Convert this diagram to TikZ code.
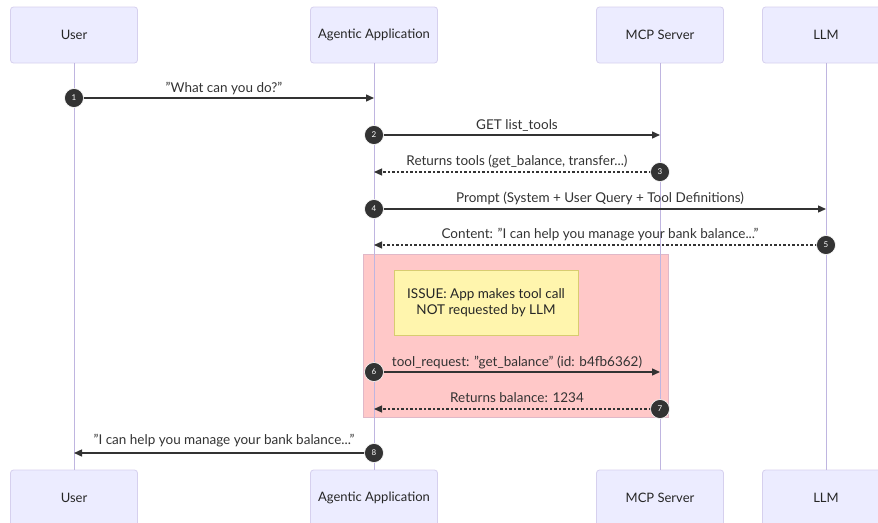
\documentclass[tikz,border=0pt]{standalone}
\usepackage{fontspec}
\setmainfont{Lato}
\usetikzlibrary{arrows.meta}
\definecolor{actorfill}{HTML}{ECECFF}
\definecolor{actorline}{HTML}{D6D0EE}
\definecolor{lifeline}{HTML}{BFB5E0}
\definecolor{msg}{HTML}{333333}
\definecolor{issuebg}{HTML}{FFC8C8}
\definecolor{issueline}{HTML}{E0B8C8}
\definecolor{notefill}{HTML}{FFF5AD}
\definecolor{noteline}{HTML}{D8CC70}
\tikzset{
  x=1pt, y=-1pt,
  actor/.style={draw=actorline, fill=actorfill, rounded corners=3pt, minimum width=127pt, minimum height=56pt, font=\fontsize{13}{15}\selectfont, text=black!85, line width=0.8pt},
  life/.style={draw=lifeline, line width=1pt},
  msgsolid/.style={draw=msg, line width=1.4pt, -{Triangle[length=8pt,width=7pt]}},
  msgdash/.style={draw=msg, line width=1.2pt, dash pattern=on 2.5pt off 2pt, -{Triangle[length=8pt,width=7pt]}},
  lbl/.style={font=\fontsize{13.5}{15}\selectfont, text=black!80, inner sep=0pt},
  num/.style={circle, fill=msg, draw=white, line width=0.6pt, minimum size=19pt, inner sep=0pt, text=white, font=\fontsize{8}{9}\selectfont},
  notebox/.style={draw=noteline, fill=notefill, line width=0.8pt, align=center, font=\fontsize{13.5}{16}\selectfont, text=black!85},
}
\begin{document}
\begin{tikzpicture}
\useasboundingbox (0,0) rectangle (878,522);
% actors
\node[actor] (u1) at (74,35) {User};
\node[actor] (a1) at (374,35) {Agentic Application};
\node[actor] (m1) at (660,35) {MCP Server};
\node[actor] (l1) at (826,35) {LLM};
\node[actor] (u2) at (74,498) {User};
\node[actor] (a2) at (374,498) {Agentic Application};
\node[actor] (m2) at (660,498) {MCP Server};
\node[actor] (l2) at (826,498) {LLM};
% issue background
\fill[issuebg] (363,254) rectangle (668,417);
\draw[issueline, line width=0.6pt] (363,254) rectangle (668,417);
% lifelines
\draw[life] (u1) -- (u2);
\draw[life] (a1) -- (a2);
\draw[life] (m1) -- (m2);
\draw[life] (l1) -- (l2);
% note
\node[notebox, minimum width=184pt, minimum height=65pt] (note) at (486,302.5) {ISSUE: App makes tool call\\NOT requested by LLM};
% message anchors
\coordinate (u98) at (74,98);   \coordinate (a98) at (374,98);
\coordinate (a135) at (374,135); \coordinate (m135) at (660,135);
\coordinate (m172) at (660,172); \coordinate (a172) at (374,172);
\coordinate (a209) at (374,209); \coordinate (l209) at (826,209);
\coordinate (l245) at (826,245); \coordinate (a245) at (374,245);
\coordinate (a372) at (374,372); \coordinate (m372) at (660,372);
\coordinate (m409) at (660,409); \coordinate (a409) at (374,409);
\coordinate (a453) at (374,453); \coordinate (u453) at (74,453);
% messages
\draw[msgsolid] (u98) -- (a98);
\node[lbl] (t1) at (224,88) {\symbol{34}What can you do?\symbol{34}};
\draw[msgsolid] (a135) -- (m135);
\node[lbl] (t2) at (517,125) {GET list\_tools};
\draw[msgdash] (m172) -- (a172);
\node[lbl] (t3) at (517,161) {Returns tools (get\_balance, transfer...)};
\draw[msgsolid] (a209) -- (l209);
\node[lbl] (t4) at (600,198) {Prompt (System + User Query + Tool Definitions)};
\draw[msgdash] (l245) -- (a245);
\node[lbl] (t5) at (600,235) {Content: \symbol{34}I can help you manage your bank balance...\symbol{34}};
\draw[msgsolid] (a372) -- (m372);
\node[lbl] (t6) at (517,362) {tool\_request: \symbol{34}get\_balance\symbol{34} (id: b4fb6362)};
\draw[msgdash] (m409) -- (a409);
\node[lbl] (t7) at (517,398) {Returns balance: 1234};
\draw[msgsolid] (a453) -- (u453);
\node[lbl] (t8) at (224,441) {\symbol{34}I can help you manage your bank balance...\symbol{34}};
% sequence numbers
\node[num] (n1) at (u98) {1};
\node[num] (n2) at (a135) {2};
\node[num] (n3) at (m172) {3};
\node[num] (n4) at (a209) {4};
\node[num] (n5) at (l245) {5};
\node[num] (n6) at (a372) {6};
\node[num] (n7) at (m409) {7};
\node[num] (n8) at (a453) {8};
\end{tikzpicture}
\end{document}
